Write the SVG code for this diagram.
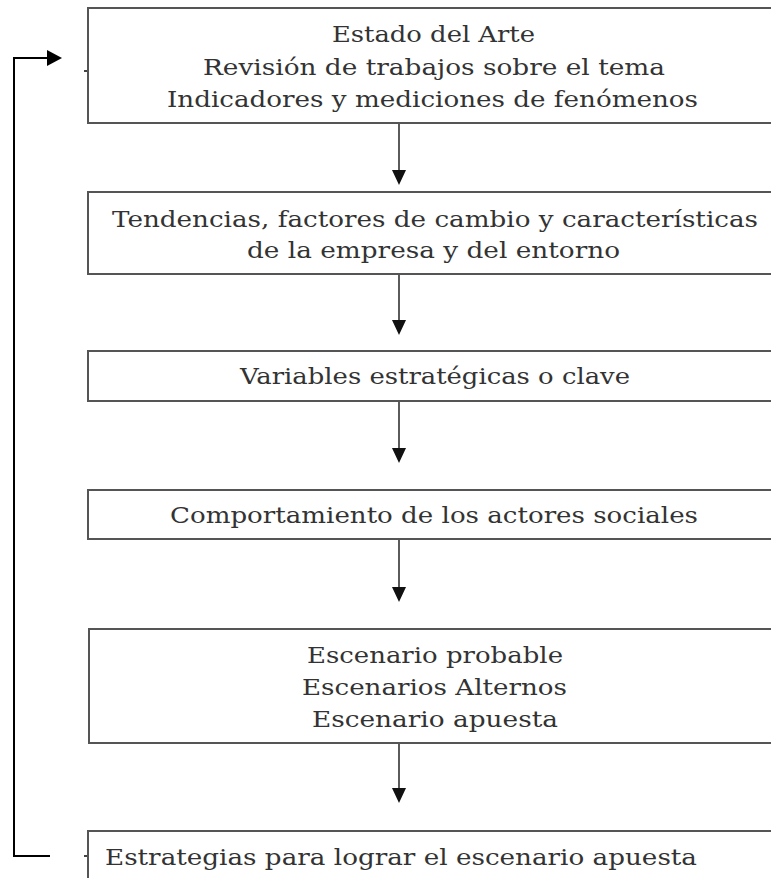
<svg xmlns="http://www.w3.org/2000/svg" width="771" height="878" viewBox="0 0 771 878">
<defs>
<style>
.box{fill:#ffffff;stroke:#555555;stroke-width:2}
.t{font-family:"DejaVu Serif","Liberation Serif",serif;font-size:22.5px;fill:#333333}
.c{fill:none;stroke:#333333;stroke-width:1.6}
.fb{fill:none;stroke:#000000;stroke-width:2}
</style>
</defs>
<rect width="771" height="878" fill="#ffffff"/>
<g id="connectors">
<line class="c" x1="399" y1="123" x2="399" y2="170"/>
<path d="M392,170 L406,170 L399,185 Z" fill="#111"/>
<line class="c" x1="399" y1="274" x2="399" y2="320"/>
<path d="M392,320 L406,320 L399,335 Z" fill="#111"/>
<line class="c" x1="399" y1="401" x2="399" y2="448"/>
<path d="M392,448 L406,448 L399,463 Z" fill="#111"/>
<line class="c" x1="399" y1="539" x2="399" y2="587"/>
<path d="M392,587 L406,587 L399,602 Z" fill="#111"/>
<line class="c" x1="399" y1="743" x2="399" y2="788"/>
<path d="M392,788 L406,788 L399,803 Z" fill="#111"/>
<path class="fb" d="M50,856 L14,856 L14,58 L48,58"/>
<path d="M47,50 L62,58 L47,66 Z" fill="#000"/>
<line x1="84" y1="71" x2="88" y2="71" stroke="#444" stroke-width="2"/>
<line x1="84" y1="856" x2="88" y2="856" stroke="#444" stroke-width="2"/>
</g>
<g id="n1">
<rect class="box" x="88" y="8" width="700" height="115"/>
<text class="t" x="332" y="42" textLength="203" lengthAdjust="spacingAndGlyphs">Estado del Arte</text>
<text class="t" x="203" y="75" textLength="462" lengthAdjust="spacingAndGlyphs">Revisión de trabajos sobre el tema</text>
<text class="t" x="167" y="107" textLength="531" lengthAdjust="spacingAndGlyphs">Indicadores y mediciones de fenómenos</text>
</g>
<g id="n2">
<rect class="box" x="88" y="192" width="700" height="82"/>
<text class="t" x="112" y="227" textLength="646" lengthAdjust="spacingAndGlyphs">Tendencias, factores de cambio y características</text>
<text class="t" x="247" y="258" textLength="373" lengthAdjust="spacingAndGlyphs">de la empresa y del entorno</text>
</g>
<g id="n3">
<rect class="box" x="88" y="351" width="700" height="50"/>
<text class="t" x="240" y="384" textLength="390" lengthAdjust="spacingAndGlyphs">Variables estratégicas o clave</text>
</g>
<g id="n4">
<rect class="box" x="88" y="490" width="700" height="49"/>
<text class="t" x="170" y="523" textLength="528" lengthAdjust="spacingAndGlyphs">Comportamiento de los actores sociales</text>
</g>
<g id="n5">
<rect class="box" x="89" y="629" width="700" height="114"/>
<text class="t" x="307" y="663" textLength="256" lengthAdjust="spacingAndGlyphs">Escenario probable</text>
<text class="t" x="302" y="695" textLength="265" lengthAdjust="spacingAndGlyphs">Escenarios Alternos</text>
<text class="t" x="312" y="727" textLength="246" lengthAdjust="spacingAndGlyphs">Escenario apuesta</text>
</g>
<g id="n6">
<rect class="box" x="88" y="831" width="700" height="80"/>
<text class="t" x="105" y="865" textLength="592" lengthAdjust="spacingAndGlyphs">Estrategias para lograr el escenario apuesta</text>
</g>
</svg>
